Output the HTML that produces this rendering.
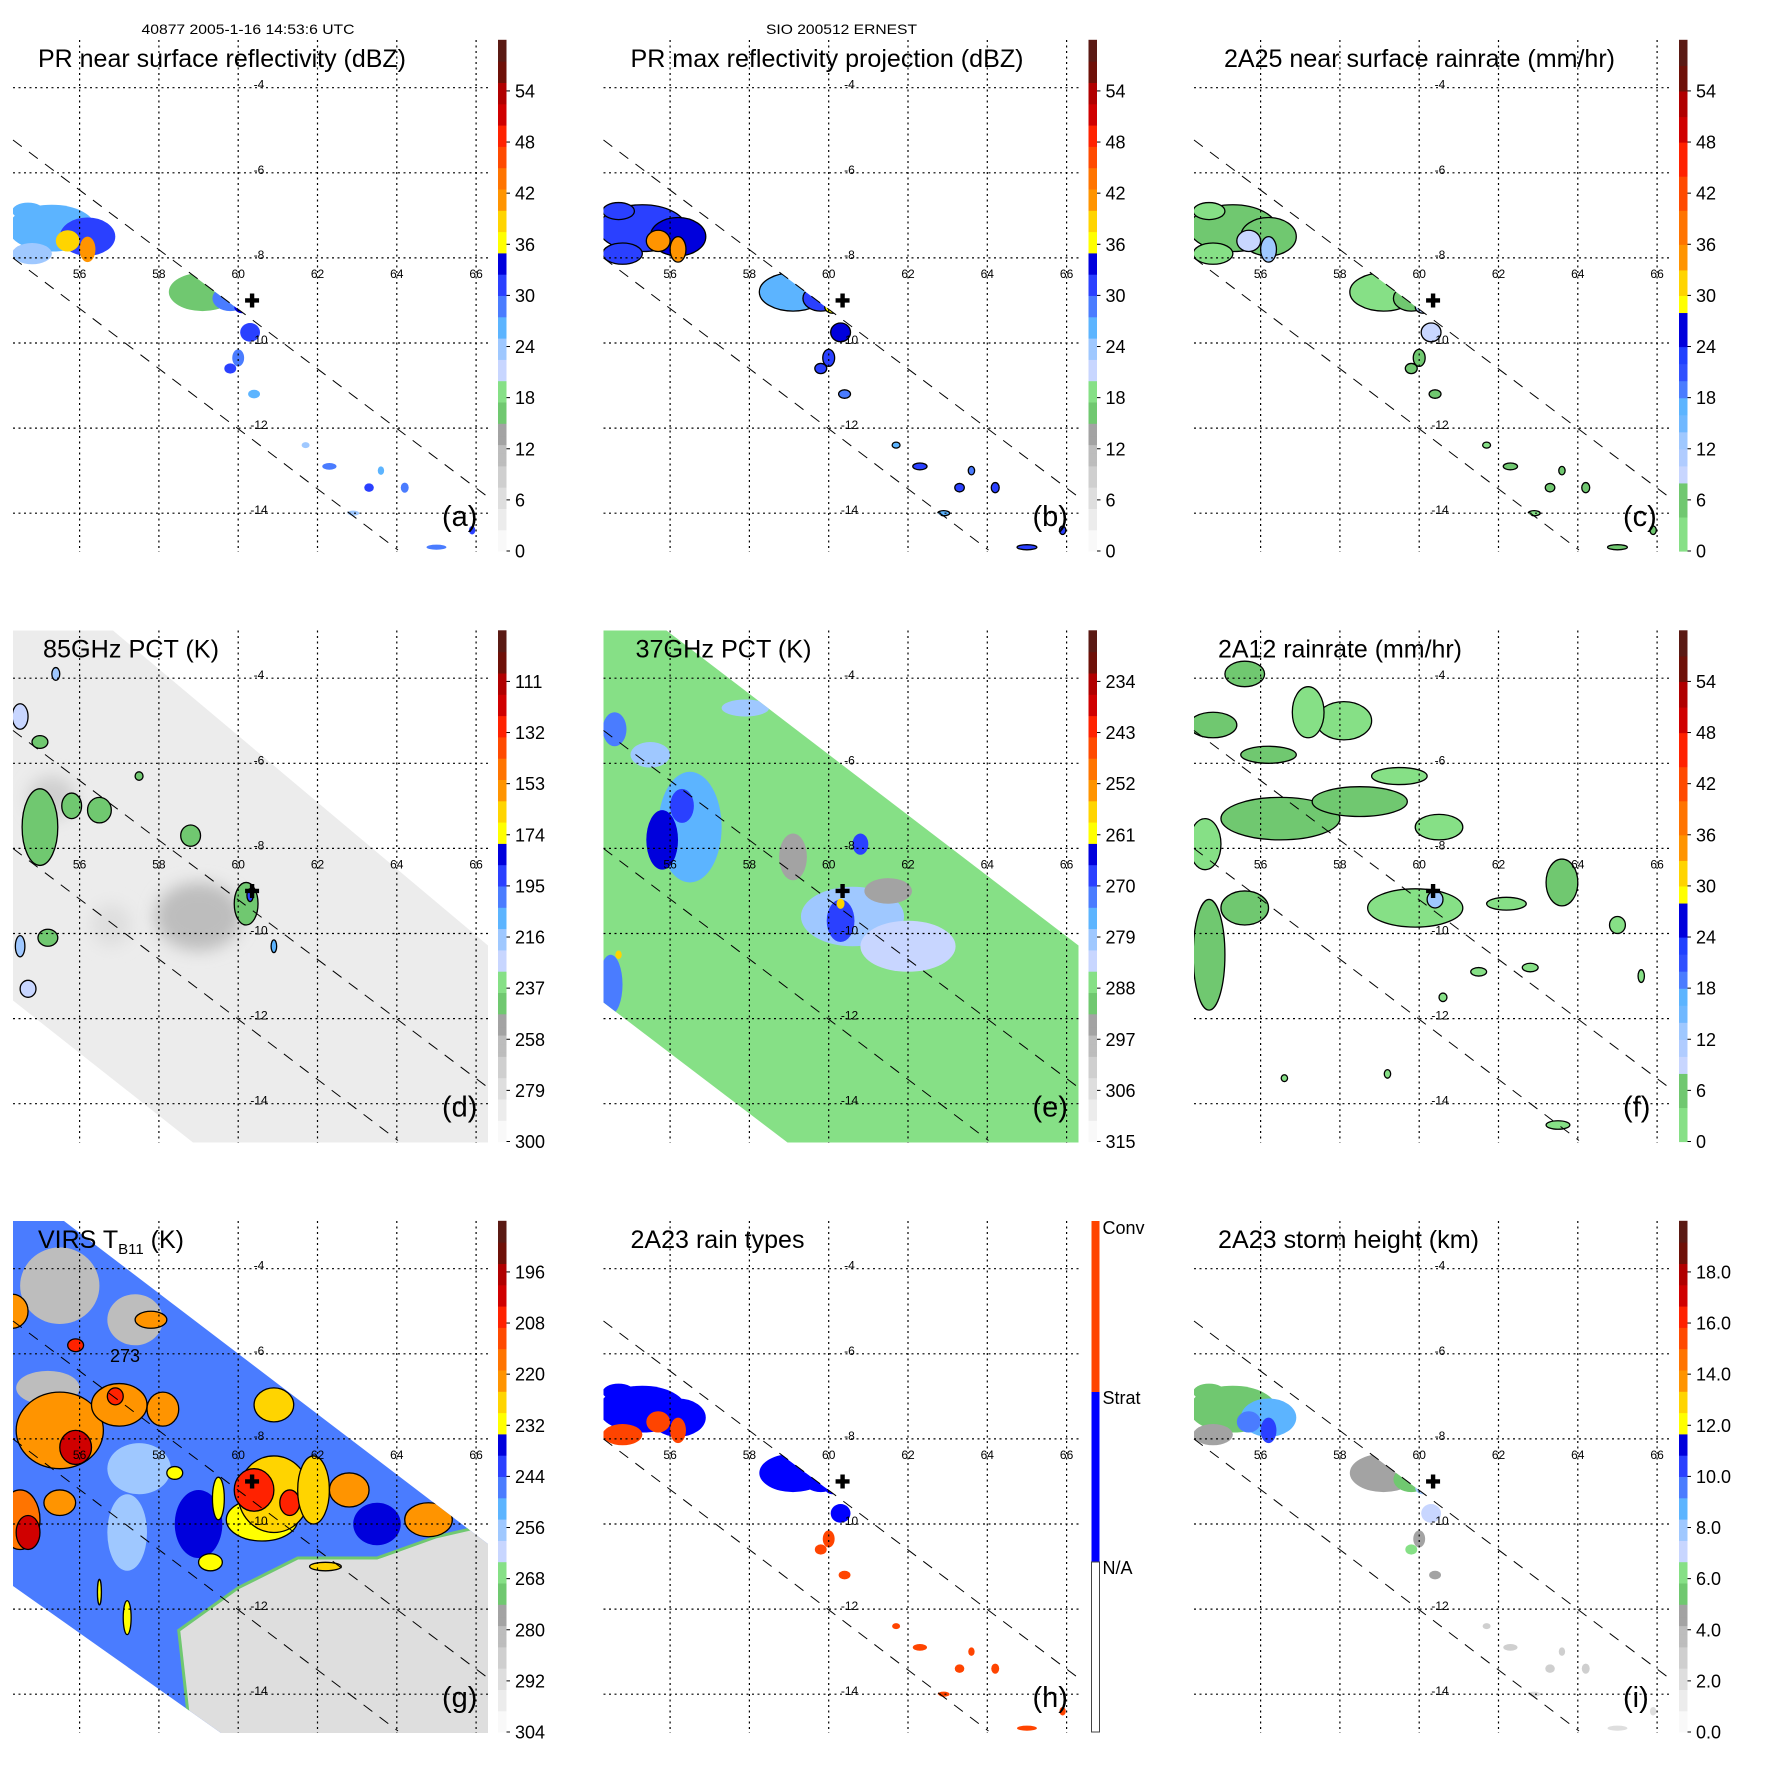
<!DOCTYPE html>
<html><head><meta charset="utf-8"><title>TRMM ERNEST panels</title>
<style>html,body{margin:0;padding:0;background:#fff}svg{display:block}text{font-family:"Liberation Sans",Arial,sans-serif}</style>
</head><body>
<svg id="fig" xmlns="http://www.w3.org/2000/svg" width="1771" height="1771" viewBox="0 0 1771 1771">
<defs>
<filter id="blur6" x="-50%" y="-50%" width="200%" height="200%"><feGaussianBlur stdDeviation="8"/></filter>
<filter id="blur3"><feGaussianBlur stdDeviation="2.5"/></filter>
</defs>
</svg>
<script>
// ---------- data ----------
const lonTicks=[56,58,60,62,64,66];
const latTicks=[-4,-6,-8,-10,-12,-14];
const lonLabels=["56","58","60","62","64","66"];
const latLabels=["-4","-6","-8","-10","-12","-14"];
const cbTicksU=[0,6,12,18,24,30,36,42,48,54];
const cbLabelsA=["0","6","12","18","24","30","36","42","48","54"];
const cbLabelsD=["300","279","258","237","216","195","174","153","132","111"];
const cbLabelsE=["315","306","297","288","279","270","261","252","243","234"];
const cbLabelsG=["304","292","280","268","256","244","232","220","208","196"];
const cbLabelsI=["0.0","2.0","4.0","6.0","8.0","10.0","12.0","14.0","16.0","18.0"];
const rainTypeLabels=["Conv","Strat","N/A"];
const stormCenter=[60.35,-9.0];

// PR blobs (lon, lat, rx deg, ry deg)
const prLon=[55.3,56.2,55.7,56.2,54.8,54.7,59.1,59.8,60.1,60.3,60.0,59.8,56.0,56.7,60.4,61.7,62.3,63.3,64.2,62.9,65.9,65.0,63.6];
const prLat=[-7.3,-7.5,-7.6,-7.8,-7.9,-6.9,-8.8,-8.95,-9.15,-9.75,-10.35,-10.6,-9.7,-10.1,-11.2,-12.4,-12.9,-13.4,-13.4,-14.0,-14.4,-14.8,-13.0];
const prRx=[1.1,0.7,0.3,0.2,0.5,0.4,0.85,0.45,0.2,0.25,0.15,0.15,0.12,0.1,0.15,0.1,0.18,0.12,0.1,0.15,0.08,0.25,0.08];
const prRy=[0.55,0.45,0.25,0.3,0.25,0.2,0.45,0.3,0.15,0.22,0.2,0.12,0.15,0.1,0.1,0.07,0.08,0.1,0.12,0.06,0.1,0.06,0.1];
const aVals=[26,30,38,40,24,26,17,28,33,31,28,30,30,28,27,24,28,30,28,24,30,28,26];
const bVals=[30,33,40,42,30,30,27,31,37,33,30,31,31,30,29,27,30,31,30,27,31,30,29];
const cVals=[4,5,9,12,3,3,2,5,10,8,4,5,5,4,4,3,4,5,4,3,5,4,4];
const hVals=[1,1,2,2,2,1,1,1,1,1,2,2,1,1,2,2,2,2,2,2,2,2,2];
const iVals=[5.5,8.5,9.5,10.5,4.5,5,4.2,5.5,8,7,4.5,6,6,4,4.5,2.5,3,2.5,2.5,2,2,2,3];

// 85 GHz PCT blobs
const dGeom=[[59.0,-9.6,1.1,0.8],[55.3,-6.8,0.6,0.5],[56.8,-9.8,0.5,0.5],[55.0,-7.5,0.45,0.9],[55.8,-7.0,0.25,0.3],[56.5,-7.1,0.3,0.3],[57.5,-6.3,0.1,0.1],[55.0,-5.5,0.2,0.15],[54.5,-4.9,0.2,0.3],[55.4,-3.9,0.1,0.15],[58.8,-7.7,0.25,0.25],[60.2,-9.3,0.3,0.5],[60.3,-9.1,0.08,0.15],[54.5,-10.3,0.12,0.25],[55.2,-10.1,0.25,0.2],[54.7,-11.3,0.2,0.2],[60.9,-10.3,0.07,0.15],[54.2,-11.8,0.1,0.2]];
const dVals=[265,272,275,242,242,244,240,242,225,215,244,242,190,215,242,225,210,242];
const dBackground=285;
// 37 GHz PCT blobs
const eGeom=[[56.5,-7.5,0.8,1.3],[55.8,-7.8,0.4,0.7],[56.3,-7.0,0.3,0.4],[60.6,-9.6,1.3,0.7],[62.0,-10.3,1.2,0.6],[60.3,-9.7,0.35,0.5],[60.3,-9.3,0.1,0.12],[54.6,-5.2,0.3,0.4],[55.5,-5.8,0.5,0.3],[59.1,-8.2,0.35,0.55],[61.5,-9.0,0.6,0.3],[60.8,-7.9,0.2,0.25],[57.9,-4.7,0.6,0.2],[54.5,-11.2,0.3,0.7],[54.7,-10.5,0.08,0.1]];
const eVals=[275,266,268,280,283,268,258,272,278,296,296,268,280,272,258];
const eBackground=287;
// 2A12 rain blobs
const fGeom=[[58.1,-5.0,0.7,0.45],[57.2,-4.8,0.4,0.6],[54.8,-5.1,0.6,0.3],[56.2,-5.8,0.7,0.2],[56.5,-7.3,1.5,0.5],[58.5,-6.9,1.2,0.35],[59.5,-6.3,0.7,0.2],[60.5,-7.5,0.6,0.3],[59.9,-9.4,1.2,0.45],[60.4,-9.2,0.2,0.2],[54.7,-10.5,0.4,1.3],[55.6,-9.4,0.6,0.4],[54.6,-7.9,0.4,0.6],[63.6,-8.8,0.4,0.55],[62.2,-9.3,0.5,0.15],[65.0,-9.8,0.2,0.2],[55.6,-3.9,0.5,0.3],[61.5,-10.9,0.2,0.1],[62.8,-10.8,0.2,0.1],[63.5,-14.5,0.3,0.1],[59.2,-13.3,0.08,0.1],[56.6,-13.4,0.08,0.08],[60.6,-11.5,0.1,0.1],[65.6,-11.0,0.08,0.15]];
const fVals=[3,3,6,5,4,5,3,3,3,12,4,5,3,4,3,3,4,3,3,3,3,3,3,3];
// VIRS blobs
const gGeom=[[55.5,-4.4,1.0,0.9],[57.4,-5.2,0.7,0.6],[55.2,-6.8,0.8,0.4],[59.0,-10.0,0.6,0.8],[63.5,-10.0,0.6,0.5],[57.5,-8.7,0.8,0.6],[57.2,-10.2,0.5,0.9],[55.5,-7.8,1.1,0.9],[55.9,-8.2,0.4,0.4],[57.0,-7.2,0.7,0.5],[56.9,-7.0,0.2,0.2],[58.1,-7.3,0.4,0.4],[60.6,-9.9,0.9,0.5],[60.9,-9.3,0.9,0.9],[60.4,-9.2,0.5,0.5],[61.3,-9.5,0.25,0.3],[61.9,-9.2,0.4,0.8],[62.8,-9.2,0.5,0.4],[64.8,-9.9,0.6,0.4],[54.5,-9.9,0.5,0.7],[54.7,-10.2,0.3,0.4],[55.5,-9.5,0.4,0.3],[54.3,-5.0,0.4,0.4],[57.8,-5.2,0.4,0.2],[60.9,-7.2,0.5,0.4],[58.4,-8.8,0.2,0.15],[57.2,-12.2,0.1,0.4],[56.5,-11.6,0.05,0.3],[59.5,-9.4,0.15,0.5],[59.3,-10.9,0.3,0.2],[62.2,-11.0,0.4,0.1],[55.9,-5.8,0.2,0.15]];
const gVals=[283,283,280,238,238,258,258,222,203,222,205,222,230,226,206,205,225,222,222,215,202,222,222,222,225,230,232,232,232,230,225,205];
const gBackground=245;
const gClearLon=[58.8,58.5,60.0,61.5,63.5,65.0,66.4,66.4];
const gClearLat=[-15.0,-12.5,-11.5,-10.8,-10.8,-10.3,-10.0,-15.0];
const gClearVal=290;

// ---------- helpers ----------
const NS="http://www.w3.org/2000/svg";
const svg=document.getElementById('fig');
const P=590.5;
const stopsA=["#f9f9f9","#ececec","#dedede","#cfcfcf","#bdbdbd","#a3a3a3","#70c870","#86e086","#c8d6ff","#9fc8ff","#5cb4ff","#4a7cff","#2a40ff","#0000dc","#ffff00","#ffd400","#ff9400","#ff7400","#ff4a00","#ff2200","#d00000","#b00000","#6e1008","#5a1a14"];
const stopsBTop=[4,8,10,12,14,16,18,20,22,24,28,30,33,36,40,44,48,51,54,57,60];
const stopsBCol=["#86e086","#70c870","#c8d6ff","#b0ccff","#9fc8ff","#70b8ff","#5cb4ff","#4a7cff","#3050ff","#2040ff","#0000dc","#ffff00","#ffd400","#ff9400","#ff7400","#ff4a00","#ff2200","#d00000","#b00000","#6e1008","#5a1a14"];
function colA(u){if(isNaN(u))u=0;let i=Math.floor(u/2.5);if(i<0)i=0;if(i>23)i=23;return stopsA[i];}
function colB(u){if(isNaN(u))u=0;for(let i=0;i<stopsBTop.length;i++){if(u<stopsBTop[i])return stopsBCol[i];}return stopsBCol[stopsBCol.length-1];}
function mk(tag,attrs,parent){const e=document.createElementNS(NS,tag);for(const k in attrs)e.setAttribute(k,attrs[k]);(parent||svg).appendChild(e);return e;}
function X(ox,lon){return ox+79.6+(lon-56)*39.65;}
function Y(oy,lat){return oy+87.7+(-4-lat)*42.55;}
function blob(g,ox,oy,lon,lat,rx,ry,fill,stroke){
  const e=mk('ellipse',{cx:X(ox,lon),cy:Y(oy,lat),rx:rx*39.65,ry:ry*42.55,fill:fill,stroke:stroke||'none','stroke-width':stroke?1.3:0},g);
  
  
  return e;
}
function clip(id,pts,ox,oy){
  const c=mk('clipPath',{id:id},svg.querySelector('defs'));
  mk('polygon',{points:pts.map(p=>(ox+p[0])+','+(oy+p[1])).join(' ')},c);
}
const prPoly=[[13,140],[488,497],[488,552],[398,552],[13,258]];
const rectPoly=[[13,40],[488,40],[488,552],[13,552]];

function panel(col,row,opt){
  const ox=col*P, oy=row*P;
  const g=mk('g',{});
  
  
  const cid='clip-'+opt.name;
  clip(cid,opt.clip,ox,oy);
  const mapG=mk('g',{'clip-path':'url(#'+cid+')'},g);
  
  
  opt.draw(mapG,ox,oy);
  const grid=mk('g',{stroke:'#000','stroke-width':1.2,'stroke-dasharray':'2,3.5',fill:'none'},g);
  
  
  lonTicks.forEach(l=>{mk('line',{x1:X(ox,l),x2:X(ox,l),y1:oy+40,y2:oy+552},grid);});
  latTicks.forEach(l=>{mk('line',{x1:ox+13,x2:ox+488,y1:Y(oy,l),y2:Y(oy,l)},grid);});
  const sw=mk('g',{stroke:'#000','stroke-width':1,'stroke-dasharray':'11,9',fill:'none'},g);
  
  
  mk('line',{x1:ox+13,y1:oy+140,x2:ox+488,y2:oy+497},sw);
  mk('line',{x1:ox+13,y1:oy+258,x2:ox+398,y2:oy+550},sw);
  lonTicks.forEach((l,i)=>{const t=mk('text',{x:X(ox,l),y:oy+278,'font-size':12,'text-anchor':'middle'},g);t.textContent=lonLabels[i];
    });
  latTicks.forEach((l,i)=>{const t=mk('text',{x:ox+259,y:Y(oy,l)+1,'font-size':12,'text-anchor':'middle'},g);t.textContent=latLabels[i];
    });
  const cx=X(ox,stormCenter[0]),cy=Y(oy,stormCenter[1]);
  const cr=mk('path',{d:`M${cx-7} ${cy-2.2}h14v4.4h-14zM${cx-2.2} ${cy-7}h4.4v14h-4.4z`,fill:'#000'},g);
  
  const t=mk('text',{x:ox+opt.tx,y:oy+67,'font-size':25,textLength:opt.tw,lengthAdjust:'spacingAndGlyphs'},g);
  if(opt.sub){t.removeAttribute('textLength');t.innerHTML='VIRS T<tspan font-size="15" dy="6">B11</tspan><tspan dy="-6"> (K)</tspan>';}
  else t.textContent=opt.title;
  
  const pl=mk('text',{x:ox+442,y:oy+526,'font-size':29},g);pl.textContent=opt.letter;
  
  const cb=mk('g',{},g);
  
  if(opt.rainTypes){
    mk('rect',{x:ox+501,y:oy+40,width:8,height:171,fill:'#ff4400'},cb);
    mk('rect',{x:ox+501,y:oy+211,width:8,height:170,fill:'#0000ff'},cb);
    mk('rect',{x:ox+501,y:oy+381,width:8,height:170,fill:'#fff',stroke:'#444','stroke-width':1},cb);
    [43,213,383].forEach((yy,i)=>{const l=mk('text',{x:ox+512,y:oy+yy+10,'font-size':18},cb);l.textContent=rainTypeLabels[i];
      });
  } else {
    for(let k=0;k<120;k++){const u=k*0.5;const c=opt.rain?colB(u+0.25):colA(u+0.25);
      mk('rect',{x:ox+498,y:oy+551-(u+0.5)*8.52,width:8.5,height:8.52*0.5+0.6,fill:c},cb);}
    cbTicksU.forEach((u,i)=>{const yy=oy+551-u*8.52;
      mk('line',{x1:ox+506.5,x2:ox+510,y1:yy,y2:yy,stroke:'#000','stroke-width':1},cb);
      const l=mk('text',{x:ox+515,y:yy+6.5,'font-size':18},cb);l.textContent=opt.labels[i];
      });
  }
}
function prDraw(vals,colorFn,stroke){return function(g,ox,oy){prLon.forEach((l,i)=>{blob(g,ox,oy,l,prLat[i],prRx[i],prRy[i],colorFn(vals[i]),stroke?'#000':null);});};}
function geomDraw(geom,vals,colorFn,stroke,bg,blurFn){return function(g,ox,oy){
  if(bg){const r=mk('rect',{x:ox,y:oy,width:P,height:P,fill:bg},g);}
  geom.forEach((q,i)=>{const e=blob(g,ox,oy,q[0],q[1],q[2],q[3],colorFn(vals[i]),stroke&&stroke(vals[i])?'#000':null);
    if(blurFn&&blurFn(vals[i]))e.setAttribute('filter','url(#blur6)');});};}

const uD=v=>(300-v)/3.5, uE=v=>(315-v)/1.5, uG=v=>(304-v)/2;

panel(0,0,{name:'panel-a',clip:prPoly,title:'PR near surface reflectivity (dBZ)',tx:38,tw:368,letter:'(a)',labels:cbLabelsA,draw:prDraw(aVals,v=>colA(v),false)});
panel(1,0,{name:'panel-b',clip:prPoly,title:'PR max reflectivity projection (dBZ)',tx:40,tw:393,letter:'(b)',labels:cbLabelsA,draw:prDraw(bVals,v=>colA(v),true)});
panel(2,0,{name:'panel-c',clip:prPoly,title:'2A25 near surface rainrate (mm/hr)',tx:43,tw:391,letter:'(c)',labels:cbLabelsA,rain:true,draw:prDraw(cVals,v=>colB(v),true)});
panel(0,1,{name:'panel-d',clip:[[13,40],[113,40],[488,355],[488,552],[193,552],[13,410]],title:'85GHz PCT (K)',tx:43,tw:176,letter:'(d)',labels:cbLabelsD,
  draw:geomDraw(dGeom,dVals,v=>colA(uD(v)),v=>v<250,colA(uD(dBackground)),v=>v>=250)});
panel(1,1,{name:'panel-e',clip:[[13,40],[76,40],[488,355],[488,552],[197,552],[13,412]],title:'37GHz PCT (K)',tx:45,tw:176,letter:'(e)',labels:cbLabelsE,
  draw:geomDraw(eGeom,eVals,v=>colA(uE(v)),null,colA(uE(eBackground)))});
panel(2,1,{name:'panel-f',clip:rectPoly,title:'2A12 rainrate (mm/hr)',tx:37,tw:244,letter:'(f)',labels:cbLabelsA,rain:true,
  draw:geomDraw(fGeom,fVals,v=>colB(v),v=>true,null)});
panel(0,2,{name:'panel-g',clip:[[13,40],[64,40],[488,363],[488,552],[221,552],[13,405]],sub:true,tx:38,tw:148,letter:'(g)',labels:cbLabelsG,
  draw:function(g,ox,oy){
    geomDraw([],[],null,null,colA(uG(gBackground)))(g,ox,oy);
    const pts=gClearLon.map((l,i)=>X(ox,l)+','+Y(oy,gClearLat[i])).join(' ');
    const cl=mk('polygon',{points:pts,fill:colA(uG(gClearVal)),stroke:'#70c870','stroke-width':3},g);
    
    geomDraw(gGeom,gVals,v=>colA(uG(v)),v=>v<235,null)(g,ox,oy);
    const lbl=mk('text',{x:ox+110,y:oy+181,'font-size':18},g);lbl.textContent='273';
    
  }});
panel(1,2,{name:'panel-h',clip:prPoly,title:'2A23 rain types',tx:40,tw:174,letter:'(h)',rainTypes:true,draw:prDraw(hVals,v=>v===2?'#ff4400':'#0000ff',false)});
panel(2,2,{name:'panel-i',clip:prPoly,title:'2A23 storm height (km)',tx:37,tw:261,letter:'(i)',labels:cbLabelsI,draw:prDraw(iVals,v=>colA(v*3),false)});

const c1=mk('text',{x:248,y:34,'font-size':14,'text-anchor':'middle',textLength:213,lengthAdjust:'spacingAndGlyphs'});
c1.textContent='40877 2005-1-16 14:53:6 UTC';

const c2=mk('text',{x:P+251,y:34,'font-size':14,'text-anchor':'middle',textLength:151,lengthAdjust:'spacingAndGlyphs'});
c2.textContent='SIO 200512 ERNEST';

</script>
</body></html>
